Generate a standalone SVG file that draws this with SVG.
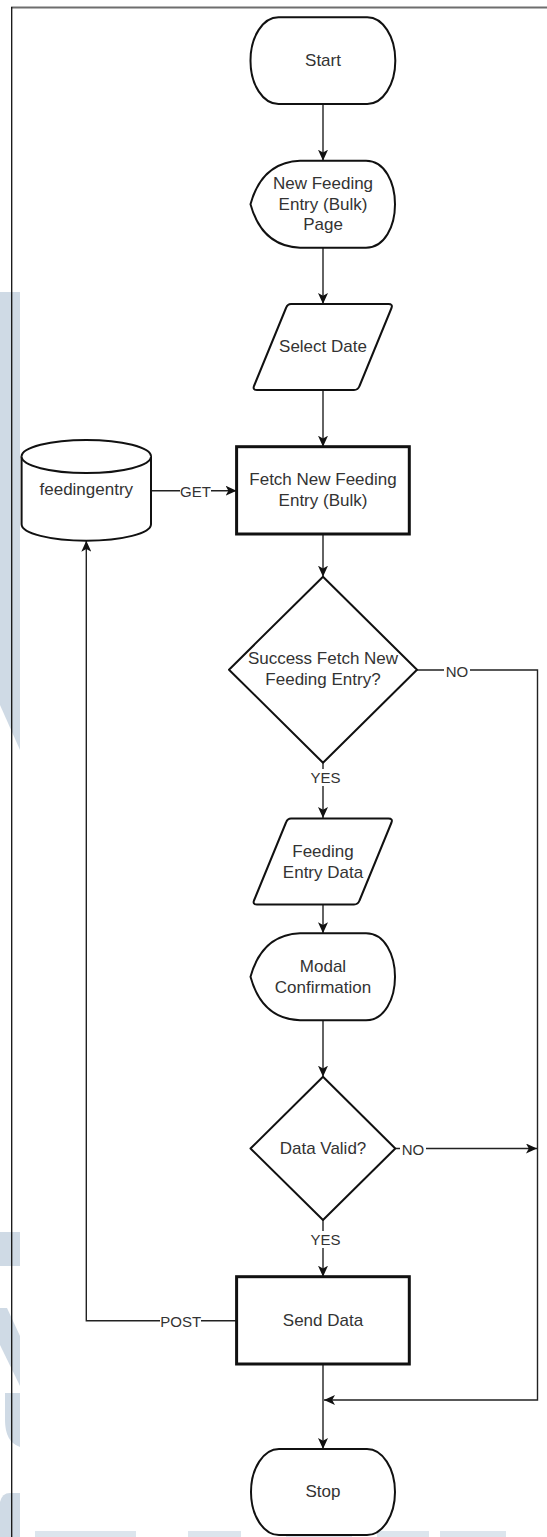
<svg xmlns="http://www.w3.org/2000/svg" width="547" height="1537" viewBox="0 0 547 1537">
  <style>
    .node { fill: #ffffff; stroke: #111111; stroke-width: 2; stroke-linejoin: round; }
    .proc { fill: #ffffff; stroke: #111111; stroke-width: 3; }
    .txt { font-family: "Liberation Sans", Arial, sans-serif; font-size: 17px; fill: #333333; text-anchor: middle; dominant-baseline: central; }
    .lbl { font-family: "Liberation Sans", Arial, sans-serif; font-size: 15px; fill: #333333; text-anchor: middle; dominant-baseline: central; }
    .edge { fill: none; stroke: #222222; stroke-width: 1.4; }
    .lblbg { fill: #ffffff; }
    .wm { fill: #cfdae5; }
    .wm2 { fill: #dce5ed; }
  </style>
  <defs>
    <marker id="arrow" markerUnits="userSpaceOnUse" markerWidth="12" markerHeight="10" refX="11" refY="5" orient="auto">
      <path d="M0,0 L11,5 L0,10 L2.8,5 Z" fill="#111111"/>
    </marker>
    <!-- display shape, 145 x 87 -->
    <path id="display" d="M0,43.5 Q11.5,1.5 49.5,0 L115.5,0 C134.5,0 144.5,22 144.5,43.5 C144.5,65 134.5,87 115.5,87 L49.5,87 Q11.5,85.5 0,43.5 Z"/>
    <!-- data (parallelogram) shape, 139.5 x 86 -->
    <path id="data" d="M38,0 L135.5,0 Q140,0 138.5,4 L106.5,82 Q105,86 101,86 L4,86 Q-0.5,86 1,82 L33,4 Q34.5,0 38,0 Z"/>
  </defs>

  <rect width="547" height="1537" fill="#ffffff"/>

  <!-- background watermark -->
  <g id="watermark">
    <polygon class="wm" points="0,292 20,292 20,750 0,705"/>
    <rect class="wm" x="0" y="1232" width="20" height="34"/>
    <polygon class="wm" points="0,1308 7,1308 20,1336 20,1386 0,1345"/>
    <path class="wm" d="M5,1393 L20,1393 L20,1447 Q5,1442 5,1420 Z"/>
    <path class="wm" d="M0,1502 Q2,1493 10,1493 L20,1493 L20,1537 L0,1537 Z"/>
    <rect class="wm2" x="35" y="1531" width="101" height="6"/>
    <rect class="wm2" x="188" y="1531" width="53" height="6"/>
    <rect class="wm2" x="286" y="1531" width="66" height="6"/>
    <rect class="wm2" x="377" y="1531" width="52" height="6"/>
    <rect class="wm2" x="440" y="1531" width="66" height="6"/>
  </g>

  <!-- page frame -->
  <line x1="11" y1="7.5" x2="547" y2="7.5" stroke="#6e6e6e" stroke-width="2"/>
  <line x1="11.7" y1="7" x2="11.7" y2="1537" stroke="#111111" stroke-width="1.3"/>

  <!-- connectors -->
  <g id="connectors">
    <line class="edge" x1="323" y1="104" x2="323" y2="160.7" marker-end="url(#arrow)"/>
    <line class="edge" x1="323" y1="247.3" x2="323" y2="304" marker-end="url(#arrow)"/>
    <line class="edge" x1="323" y1="390" x2="323" y2="446.7" marker-end="url(#arrow)"/>
    <line class="edge" x1="323" y1="534" x2="323" y2="576.7" marker-end="url(#arrow)"/>
    <line class="edge" x1="323" y1="762.7" x2="323" y2="818" marker-end="url(#arrow)"/>
    <line class="edge" x1="323" y1="905" x2="323" y2="933.3" marker-end="url(#arrow)"/>
    <line class="edge" x1="323" y1="1020.7" x2="323" y2="1076.7" marker-end="url(#arrow)"/>
    <line class="edge" x1="323" y1="1220" x2="323" y2="1276.7" marker-end="url(#arrow)"/>
    <line class="edge" x1="323" y1="1364" x2="323" y2="1449" marker-end="url(#arrow)"/>
    <polyline class="edge" points="417,670 537.5,670 537.5,1400 324,1400" marker-end="url(#arrow)"/>
    <line class="edge" x1="395.3" y1="1148.5" x2="537" y2="1148.5" marker-end="url(#arrow)"/>
    <line class="edge" x1="151" y1="490.7" x2="236.6" y2="490.7" marker-end="url(#arrow)"/>
    <polyline class="edge" points="236.6,1320.7 86.3,1320.7 86.3,540.7" marker-end="url(#arrow)"/>

    <rect class="lblbg" x="180" y="482" width="31" height="17"/>
    <text class="lbl" x="195.5" y="491">GET</text>
    <rect class="lblbg" x="444" y="662" width="26" height="17"/>
    <text class="lbl" x="457" y="671">NO</text>
    <rect class="lblbg" x="310" y="769" width="31" height="17"/>
    <text class="lbl" x="325.5" y="777.5">YES</text>
    <rect class="lblbg" x="400" y="1140" width="26" height="17"/>
    <text class="lbl" x="413" y="1149">NO</text>
    <rect class="lblbg" x="310" y="1231" width="31" height="17"/>
    <text class="lbl" x="325.5" y="1239.5">YES</text>
    <rect class="lblbg" x="160" y="1312" width="41" height="17"/>
    <text class="lbl" x="180.7" y="1321">POST</text>
  </g>

  <!-- nodes -->
  <g id="start">
    <rect class="node" x="250.5" y="17.3" width="144.8" height="86.7" rx="28" ry="43"/>
    <text class="txt" x="323" y="60.5">Start</text>
  </g>

  <g id="page">
    <use href="#display" class="node" x="250.5" y="160.7"/>
    <text class="txt" x="323" y="183.5">New Feeding</text>
    <text class="txt" x="323" y="204">Entry (Bulk)</text>
    <text class="txt" x="323" y="224.5">Page</text>
  </g>

  <g id="select-date">
    <use href="#data" class="node" x="253" y="304"/>
    <text class="txt" x="323" y="346.5">Select Date</text>
  </g>

  <g id="feedingentry-db">
    <path class="node" d="M21.6,456.5 A64.7,16.5 0 0 1 151,456.5 L151,524.2 A64.7,16.5 0 0 1 21.6,524.2 Z"/>
    <path class="node" fill="none" d="M21.6,456.5 A64.7,16.5 0 0 0 151,456.5"/>
    <text class="txt" x="86.3" y="489.5">feedingentry</text>
  </g>

  <g id="fetch">
    <rect class="proc" x="236.6" y="446.7" width="172.7" height="87.3"/>
    <text class="txt" x="323" y="479.5">Fetch New Feeding</text>
    <text class="txt" x="323" y="500.5">Entry (Bulk)</text>
  </g>

  <g id="fetch-success">
    <polygon class="node" points="323,576.7 417,669.7 323,762.7 229,669.7"/>
    <text class="txt" x="323" y="658.5">Success Fetch New</text>
    <text class="txt" x="323" y="679.5">Feeding Entry?</text>
  </g>

  <g id="feeding-entry-data">
    <use href="#data" class="node" x="253" y="818.5"/>
    <text class="txt" x="323" y="851.5">Feeding</text>
    <text class="txt" x="323" y="872.5">Entry Data</text>
  </g>

  <g id="modal">
    <use href="#display" class="node" x="250.5" y="933.3"/>
    <text class="txt" x="323" y="966">Modal</text>
    <text class="txt" x="323" y="987">Confirmation</text>
  </g>

  <g id="data-valid">
    <polygon class="node" points="323,1076.7 395.3,1148.5 323,1220 250.5,1148.5"/>
    <text class="txt" x="323" y="1148">Data Valid?</text>
  </g>

  <g id="send-data">
    <rect class="proc" x="236.6" y="1276.7" width="172.7" height="87.3"/>
    <text class="txt" x="323" y="1320">Send Data</text>
  </g>

  <g id="stop">
    <rect class="node" x="251" y="1449" width="144" height="86" rx="28" ry="43"/>
    <text class="txt" x="323" y="1491.5">Stop</text>
  </g>
</svg>
